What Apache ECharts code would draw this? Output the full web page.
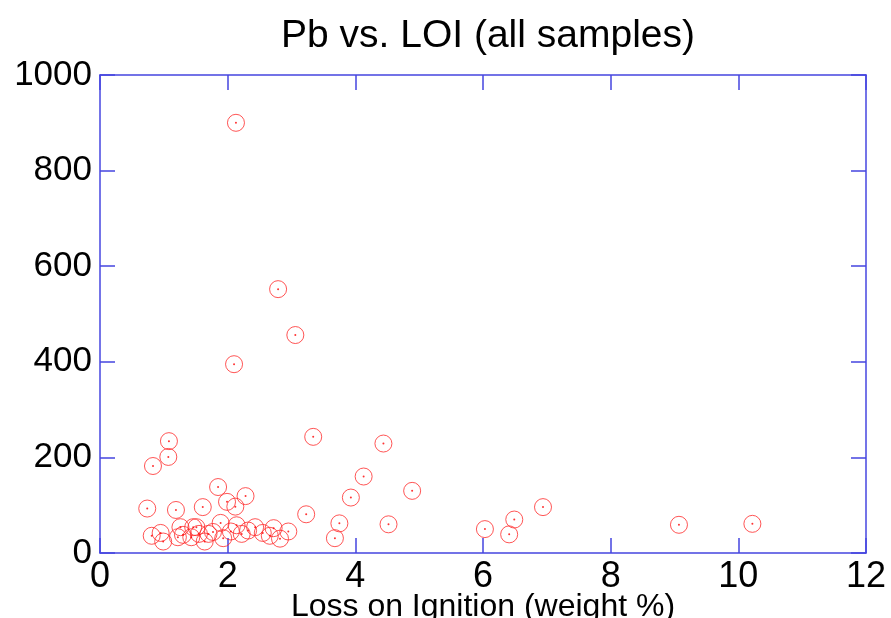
<!DOCTYPE html>
<html>
<head>
<meta charset="utf-8">
<script src="https://cdn.jsdelivr.net/npm/echarts@6/dist/echarts.min.js"></script>
<style>
html,body{margin:0;padding:0;background:#fff;}
#c{width:891px;height:618px;}
</style>
</head>
<body>
<div id="c"></div>
<script>
const loi = [0.74,0.81,0.83,0.95,0.99,1.07,1.08,1.19,1.22,1.26,1.30,1.43,1.46,1.51,1.55,1.61,1.64,1.70,1.77,1.85,1.89,1.93,1.99,2.05,2.10,2.12,2.13,2.14,2.22,2.28,2.32,2.43,2.55,2.66,2.72,2.79,2.82,2.95,3.06,3.23,3.34,3.68,3.75,3.93,4.13,4.44,4.52,4.89,6.03,6.41,6.49,6.94,9.07,10.22];
const pb  = [93,36,182,42,24,201,234,90,33,54,38,33,54,54,40,96,24,40,44,138,63,31,107,45,395,97,900,58,40,119,47,54,42,36,52,552,30,45,456,81,243,31,62,116,160,229,60,130,50,39,70,96,59,61];
const xTicks = [0,2,4,6,8,10,12];
const yTicks = [0,200,400,600,800,1000];
const titleText = 'Pb vs. LOI (all samples)';
const xName = 'Loss on Ignition (weight %)';

const pts = loi.map((x,i)=>[x,pb[i]]);
const axisColor = '#4646e0';
const font = 'Liberation Sans, Arial, sans-serif';
const chart = echarts.init(document.getElementById('c'), null, {renderer:'canvas'});
const baseX = {
  type:'value', min:xTicks[0], max:xTicks[xTicks.length-1], interval:2,
  axisLine:{show:true, onZero:false, lineStyle:{color:axisColor, width:1.5}},
  axisTick:{show:true, inside:true, length:15, lineStyle:{color:axisColor, width:1.5}},
  splitLine:{show:false}
};
const baseY = {
  type:'value', min:yTicks[0], max:yTicks[yTicks.length-1], interval:200,
  axisLine:{show:true, onZero:false, lineStyle:{color:axisColor, width:1.5}},
  axisTick:{show:true, inside:true, length:15, lineStyle:{color:axisColor, width:1.5}},
  splitLine:{show:false}
};
chart.setOption({
  animation:false,
  backgroundColor:'#fff',
  title:{text:titleText, left:483, top:12, textAlign:'center',
    textStyle:{fontFamily:font, fontSize:39, fontWeight:'normal', color:'#000'}},
  grid:{left:100, right:25, top:75, bottom:65, containLabel:false, outerBoundsMode:'none'},
  xAxis:[
    Object.assign({}, baseX, {position:'bottom',
      axisLabel:{show:true, margin:6, color:'#000', fontFamily:font, fontSize:36, formatter:v=>String(v)},
      name:xName, nameLocation:'middle', nameGap:38, nameMoveOverlap:false,
      nameTextStyle:{color:'#000', fontFamily:font, fontSize:32}}),
    Object.assign({}, baseX, {position:'top', axisLabel:{show:false}})
  ],
  yAxis:[
    Object.assign({}, baseY, {position:'left',
      axisLabel:{show:true, margin:8, color:'#000', fontFamily:font, fontSize:35, formatter:v=>String(v)}}),
    Object.assign({}, baseY, {position:'right', axisLabel:{show:false}})
  ],
  series:[
    {type:'scatter', data:pts, symbol:'circle', symbolSize:17,
      itemStyle:{color:'rgba(0,0,0,0)', borderColor:'#ff2a2a', borderWidth:1}, silent:true},
    {type:'scatter', data:pts, symbol:'circle', symbolSize:2,
      itemStyle:{color:'#ff0000'}, silent:true}
  ]
});
</script>
</body>
</html>
